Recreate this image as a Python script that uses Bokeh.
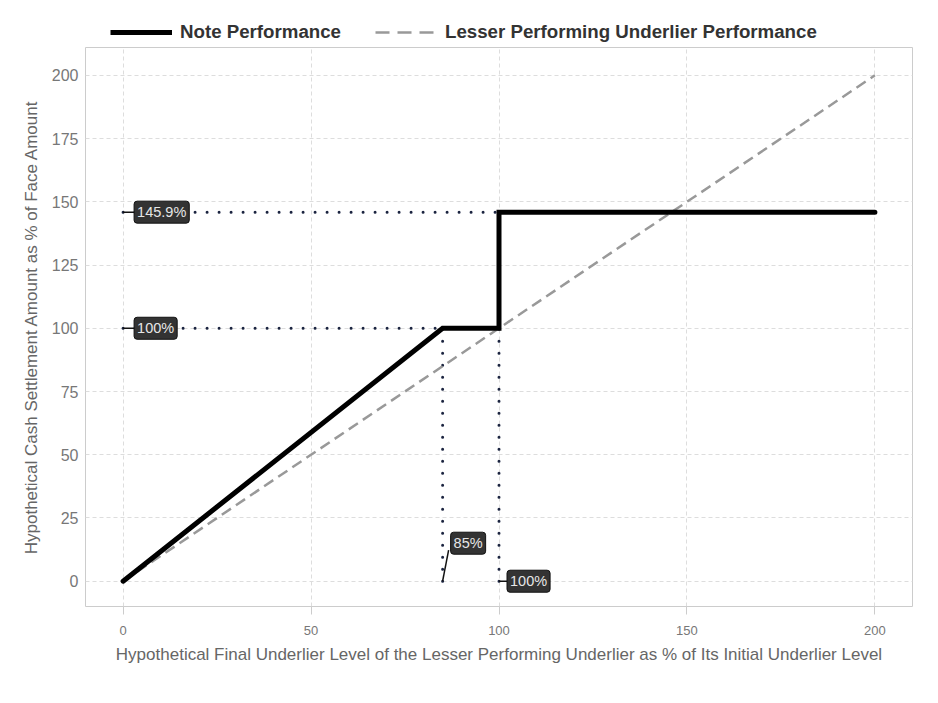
from bokeh.plotting import figure
from bokeh.models import Range1d, Legend, LegendItem, Label, FixedTicker
from bokeh.layouts import column
from bokeh.embed import file_html
from bokeh.resources import INLINE

# ---- data ----
note_x = [0, 85, 100, 100, 200]
note_y = [0, 100, 100, 145.9, 145.9]
under_x = [0, 200]
under_y = [0, 200]
barrier_level = 85
threshold_level = 100
par_amount = 100
max_amount = 145.9
x_ticks = [0, 50, 100, 150, 200]
y_ticks = [0, 25, 50, 75, 100, 125, 150, 175, 200]
label_max = "145.9%"
label_par = "100%"
label_barrier = "85%"
label_threshold = "100%"
series_names = ["Note Performance", "Lesser Performing Underlier Performance"]

W, H = 938, 703
LEG_H = 44
MAIN_H = H - LEG_H
p = figure(width=W, height=MAIN_H, output_backend="svg", toolbar_location=None,
           x_range=Range1d(-10, 210), y_range=Range1d(-10, 211),
           min_border_left=85, min_border_right=26, min_border_top=3, min_border_bottom=97)
p.background_fill_color = "white"
p.border_fill_color = "white"
p.outline_line_color = "#cccccc"
p.outline_line_width = 1

FW = W - 85 - 26
FH = MAIN_H - 3 - 97
fx = FW / 220.0
fy = FH / 221.0

for g in (p.xgrid, p.ygrid):
    g.grid_line_color = "#dddddd"
    g.grid_line_dash = "4 3"
    g.grid_line_width = 1
p.xaxis.ticker = FixedTicker(ticks=x_ticks)
p.yaxis.ticker = FixedTicker(ticks=y_ticks)
p.xgrid.ticker = FixedTicker(ticks=x_ticks)
p.ygrid.ticker = FixedTicker(ticks=y_ticks)

p.xaxis.axis_line_color = None
p.yaxis.axis_line_color = None
p.xaxis.major_tick_line_color = "#cccccc"
p.xaxis.major_tick_out = 8
p.xaxis.major_tick_in = 0
p.yaxis.major_tick_line_color = None
p.xaxis.minor_tick_line_color = None
p.yaxis.minor_tick_line_color = None
p.xaxis.major_label_text_font = "Liberation Sans"
p.yaxis.major_label_text_font = "Liberation Sans"
p.xaxis.major_label_text_font_size = "13px"
p.yaxis.major_label_text_font_size = "16px"
p.xaxis.major_label_text_color = "#777777"
p.yaxis.major_label_text_color = "#777777"
p.xaxis.major_label_standoff = 11
p.yaxis.major_label_standoff = 1

p.xaxis.axis_label = "Hypothetical Final Underlier Level of the Lesser Performing Underlier as % of Its Initial Underlier Level"
p.yaxis.axis_label = "Hypothetical Cash Settlement Amount as % of Face Amount"
for ax in (p.xaxis, p.yaxis):
    ax.axis_label_text_font = "Liberation Sans"
    ax.axis_label_text_font_style = "normal"
    ax.axis_label_text_font_size = "17px"
    ax.axis_label_text_color = "#666666"
p.xaxis.axis_label_standoff = 7
p.yaxis.axis_label_standoff = 8

# dotted reference lines
dot_color = "#1b2440"
dot_kw = dict(line_color=dot_color, line_width=3, line_dash="0 12", line_cap="round")
p.line([0, threshold_level], [max_amount, max_amount], **dot_kw)
p.line([0, barrier_level], [par_amount, par_amount], **dot_kw)
p.line([barrier_level, barrier_level], [0, par_amount], **dot_kw)
p.line([threshold_level, threshold_level], [0, max_amount], **dot_kw)

# series
note_style = dict(line_color="black", line_width=5, line_join="miter", line_cap="butt")
under_style = dict(line_color="#999999", line_width=2.5, line_dash="11 6")
p.line(under_x, under_y, **under_style)
p.line(note_x, note_y, **dict(note_style, line_cap="round"))

# labels
lab_kw = dict(text_font="Liberation Sans", text_font_size="14.5px", text_color="#e6e6e6",
              background_fill_color="#333333", border_line_color="#111111", border_line_width=1,
              padding=3, border_radius=3, text_align="left", text_baseline="middle")

def leader(x0, y0, x1, y1):
    p.line([x0, x1], [y0, y1], line_color="#111111", line_width=1.5)

for yv, txt in ((max_amount, label_max), (par_amount, label_par)):
    leader(0, yv, 11 / fx, yv)
    p.add_layout(Label(x=11 / fx, y=yv, text=txt, **lab_kw))

leader(barrier_level, 0, barrier_level + 6 / fx, 31 / fy)
p.add_layout(Label(x=barrier_level + 8 / fx, y=38 / fy, text=label_barrier, **lab_kw))
leader(threshold_level, 0, threshold_level + 8 / fx, 0)
p.add_layout(Label(x=threshold_level + 8 / fx, y=0, text=label_threshold, **lab_kw))

# ---- legend strip (series drawn out of view; only the legend shows) ----
lg = figure(width=W, height=LEG_H, output_backend="svg", toolbar_location=None,
            x_range=Range1d(-10, 210), y_range=Range1d(-1000, -999),
            x_axis_location=None, y_axis_location=None,
            min_border_left=85, min_border_right=26, min_border_top=0, min_border_bottom=0)
lg.grid.visible = False
lg.outline_line_color = None
lg.background_fill_color = "white"
lg.border_fill_color = "white"
ln = lg.line(note_x, note_y, **note_style)
lu = lg.line(under_x, under_y, **dict(under_style, line_dash="14 8"))
legend = Legend(items=[LegendItem(label=series_names[0], renderers=[ln]),
                       LegendItem(label=series_names[1], renderers=[lu])],
                orientation="horizontal", location=(25, 1),
                glyph_width=62, glyph_height=20, label_standoff=8, spacing=34,
                padding=0, margin=0, border_line_color=None, background_fill_alpha=0,
                label_text_font="Liberation Sans", label_text_font_style="bold",
                label_text_font_size="18.7px", label_text_color="#333333")
lg.add_layout(legend, "center")

layout = column(lg, p, spacing=0)
open("out.html", "w").write(file_html(layout, INLINE))
